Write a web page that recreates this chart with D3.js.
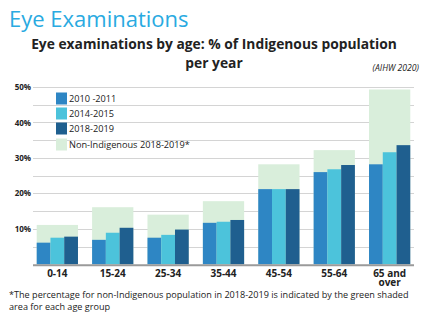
<!DOCTYPE html>
<html><head><meta charset="utf-8">
<script src="https://cdn.jsdelivr.net/npm/d3@7"></script>
<style>body{margin:0;background:#fff}svg{display:block}</style>
</head><body>
<svg id="c" width="428" height="323"></svg>
<script>
const categories = ["0-14","15-24","25-34","35-44","45-54","55-64","65 and over"];
const series = ["2010 -2011","2014-2015","2018-2019"];
const v2010 = [6.1, 6.9, 7.5, 11.7, 21.2, 26.0, 28.2];
const v2014 = [7.5, 8.9, 8.3, 12.0, 21.2, 26.8, 31.6];
const v2018 = [7.8, 10.3, 9.8, 12.5, 21.2, 28.0, 33.6];
const nonIndigenous = [11.1, 16.1, 14.0, 17.8, 28.2, 32.2, 49.3];
const yTicks = [10, 20, 30, 40, 50];
const colors = ["#2e86c4", "#4cc3db", "#1f5f8f"];
const green = "#d9eedb";
const font = "'Open Sans', sans-serif";

const svg = d3.select("#c");
const x = d3.scaleBand().domain(categories).range([33, 414]).paddingInner(0.255).paddingOuter(0.067);
const xs = d3.scaleBand().domain(series).range([0, x.bandwidth()]);
const y = d3.scaleLinear().domain([0, 50]).range([264.3, 87]);

// title
svg.append("text").attr("x", 9).attr("y", 27).attr("font-family", font).attr("font-size", 22)
  .attr("fill", "#29aae1").text("Eye Examinations");
const sub = svg.append("text").attr("text-anchor", "middle").attr("font-family", font)
  .attr("font-size", 13.8).attr("font-weight", "bold").attr("fill", "#222");
sub.append("tspan").attr("x", 214).attr("y", 49).text("Eye examinations by age: % of Indigenous population");
sub.append("tspan").attr("x", 214).attr("y", 68).text("per year");
svg.append("text").attr("x", 419).attr("y", 71).attr("text-anchor", "end").attr("font-family", font)
  .attr("font-size", 8.6).attr("font-style", "italic").attr("fill", "#222").text("(AIHW 2020)");

// gridlines (every 5%)
const grid = d3.range(5, 51, 5);
svg.append("g").selectAll("line").data(grid).join("line")
  .attr("x1", 33).attr("x2", 414).attr("y1", d => Math.round(y(d)) + 0.5).attr("y2", d => Math.round(y(d)) + 0.5)
  .attr("stroke", "#d4d4d4").attr("stroke-width", 1);

// y labels
const yAxis = d3.axisLeft(y).tickValues(yTicks).tickFormat(d => d + "%").tickSize(0).tickPadding(2);
const ya = svg.append("g").attr("transform", "translate(33,0)").call(yAxis);
ya.select(".domain").remove();
ya.selectAll("text").attr("font-family", font).attr("font-size", 8).attr("font-weight", "bold").attr("fill", "#222");

// green areas
svg.append("g").selectAll("rect").data(categories).join("rect")
  .attr("x", d => x(d)).attr("width", x.bandwidth())
  .attr("y", (d, i) => y(nonIndigenous[i])).attr("height", (d, i) => y(0) - y(nonIndigenous[i]))
  .attr("fill", green);

// bars
const vals = [v2010, v2014, v2018];
series.forEach((s, si) => {
  svg.append("g").selectAll("rect").data(categories).join("rect")
    .attr("x", d => x(d) + xs(s)).attr("width", xs.bandwidth())
    .attr("y", (d, i) => y(vals[si][i])).attr("height", (d, i) => y(0) - y(vals[si][i]))
    .attr("fill", colors[si]);
});

// x axis
svg.append("line").attr("x1", 33).attr("x2", 414).attr("y1", y(0) + 1).attr("y2", y(0) + 1)
  .attr("stroke", "#9a9a9a").attr("stroke-width", 2);
const xl = svg.append("g");
categories.forEach(c => {
  const cx = x(c) + x.bandwidth() / 2;
  const words = c === "65 and over" ? ["65 and", "over"] : [c];
  const t = xl.append("text").attr("text-anchor", "middle")
    .attr("font-family", font).attr("font-size", 10).attr("font-weight", "bold").attr("fill", "#222");
  words.forEach((w, j) => {
    t.append("tspan").attr("x", cx).attr("y", 276.5 + j * 9.5).text(w);
  });
});

// legend
const legItems = series.map((s, i) => ({label: s, color: colors[i]})).concat([{label: "Non-Indigenous 2018-2019*", color: green}]);
const legY = [98.5, 113.5, 128.5, 144.5];
const lg = svg.append("g");
legItems.forEach((d, i) => {
  lg.append("rect").attr("x", 56).attr("y", legY[i] - 6).attr("width", 11).attr("height", 12).attr("fill", d.color);
  lg.append("text").attr("x", 69).attr("y", legY[i] + 3.5).attr("font-family", font).attr("font-size", 9.2)
    .attr("fill", "#222").text(d.label);
});

// footnote
const fn = svg.append("text").attr("font-family", font).attr("font-size", 9.1).attr("fill", "#222");
fn.append("tspan").attr("x", 9).attr("y", 298)
  .text("*The percentage for non-Indigenous population in 2018-2019 is indicated by the green shaded");
fn.append("tspan").attr("x", 9).attr("y", 310).text("area for each age group");
</script>
</body></html>
